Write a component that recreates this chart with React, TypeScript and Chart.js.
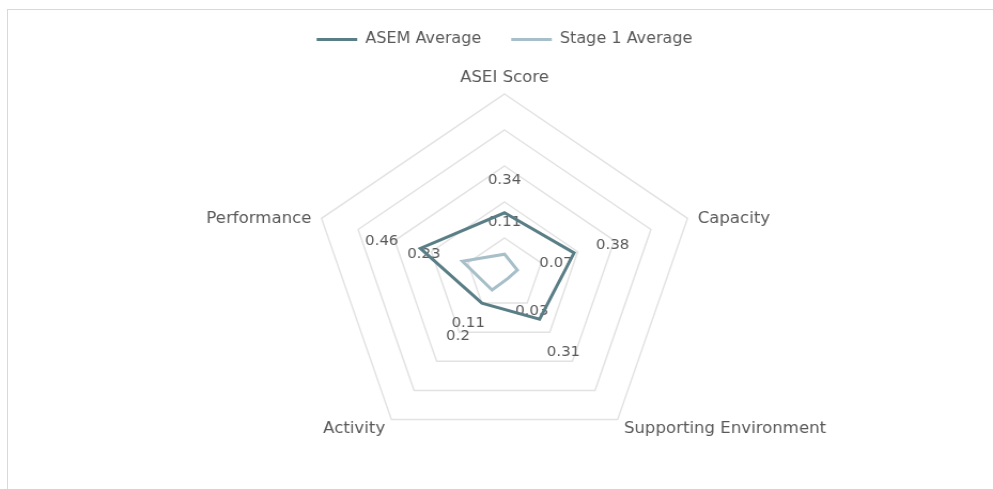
import React, { useEffect, useRef } from "react";
import { Chart, registerables } from "chart.js";

Chart.register(...registerables);

// ---- data ----
const categories = ["ASEI Score", "Capacity", "Supporting Environment", "Activity", "Performance"];
const seriesNames = ["ASEM Average", "Stage 1 Average"];
const asemAverage = [0.34, 0.38, 0.31, 0.2, 0.46];
const stage1Average = [0.11, 0.07, 0.03, 0.11, 0.23];
const axisMin = 0;
const axisMax = 1;
const axisStep = 0.2;

// ---- styles ----
const FONT = "'DejaVu Sans', 'Noto Sans', sans-serif";
const TEXT = "#595959";
const ASEM_COLOR = "#5a7e86";
const STAGE_COLOR = "#a6bfc8";
const GRID_COLOR = "#e2e2e2";
// the reference picture is slightly wider than tall: the canvas is drawn
// at RENDER_W and shown at 993 px
const VIEW_W = 993;
const VIEW_H = 489;
const RENDER_W = 929;

const excelLabels = {
  id: "excelLabels",
  beforeDatasetsDraw(chart: any) {
    const scale = chart.scales.r;
    const ctx = chart.ctx;
    ctx.save();
    ctx.fillStyle = TEXT;

    // category (axis) labels
    ctx.font = `15.5px ${FONT}`;
    chart.data.labels.forEach((lab: string, i: number) => {
      const p = scale.getPointPosition(i, scale.drawingArea);
      const dx = (p.x - scale.xCenter) / scale.drawingArea;
      const dy = (p.y - scale.yCenter) / scale.drawingArea;
      if (Math.abs(dx) < 0.05) {
        ctx.textAlign = "center";
        ctx.textBaseline = "bottom";
        ctx.fillText(lab, p.x, p.y + dy * 8);
      } else {
        ctx.textAlign = dx > 0 ? "left" : "right";
        ctx.textBaseline = "middle";
        ctx.fillText(lab, p.x + dx * 10, p.y + dy * 8 + 3);
      }
    });

    // data labels
    ctx.font = `14px ${FONT}`;
    ctx.textAlign = "center";
    ctx.textBaseline = "middle";
    chart.data.datasets.forEach((ds: any, di: number) => {
      const meta = chart.getDatasetMeta(di);
      if (meta.hidden) return;
      ds.data.forEach((v: number, i: number) => {
        const p = scale.getPointPositionForValue(i, v);
        const a = scale.getIndexAngle(i) - Math.PI / 2;
        const x = p.x + Math.cos(a) * 38;
        const y = p.y + Math.sin(a) * 36 + 4;
        ctx.fillText(String(v), x, y);
      });
    });
    ctx.restore();
  },
};

export default function App() {
  const ref = useRef<HTMLCanvasElement | null>(null);

  useEffect(() => {
    if (!ref.current) return;
    const chart = new Chart(ref.current, {
      type: "radar",
      data: {
        labels: categories,
        datasets: [
          {
            label: seriesNames[0],
            data: asemAverage,
            borderColor: ASEM_COLOR,
            backgroundColor: ASEM_COLOR,
            borderWidth: 3,
            fill: false,
            pointRadius: 0,
            pointHoverRadius: 0,
          },
          {
            label: seriesNames[1],
            data: stage1Average,
            borderColor: STAGE_COLOR,
            backgroundColor: STAGE_COLOR,
            borderWidth: 3,
            fill: false,
            pointRadius: 0,
            pointHoverRadius: 0,
          },
        ],
      },
      options: {
        responsive: false,
        animation: false,
        devicePixelRatio: 1,
        layout: { padding: { top: 4, left: 172, right: 157, bottom: 35 } },
        plugins: {
          tooltip: { enabled: false },
          legend: {
            display: true,
            position: "top",
            labels: {
              font: { family: FONT, size: 15 },
              color: TEXT,
              boxWidth: 38,
              boxHeight: 3,
              padding: 28,
              generateLabels(chart: any) {
                const items = (Chart.defaults.plugins.legend.labels as any).generateLabels(chart);
                return items.map((it: any) => ({ ...it, fillStyle: it.strokeStyle, lineWidth: 0 }));
              },
            },
          },
          // empty spacer box between legend and the plot area
          subtitle: {
            display: true,
            text: "",
            position: "top",
            weight: 500,
            font: { size: 12, lineHeight: 1 },
            padding: { top: 12, bottom: 13 },
          } as any,
        },
        scales: {
          r: {
            min: axisMin,
            max: axisMax,
            ticks: { display: false, stepSize: axisStep },
            grid: { color: GRID_COLOR, lineWidth: 1.5 },
            angleLines: { display: false },
            pointLabels: { display: false },
          },
        },
      },
      plugins: [excelLabels],
    });
    return () => chart.destroy();
  }, []);

  return (
    <div style={{ position: "fixed", inset: 0, overflow: "hidden", background: "#fff" }}>
      <div
        style={{
          position: "absolute",
          left: 7,
          top: 9,
          width: 2000,
          height: 2000,
          border: "1px solid #d9d9d9",
        }}
      />
      <canvas
        ref={ref}
        width={RENDER_W}
        height={VIEW_H}
        style={{ position: "absolute", left: 0, top: 0, width: VIEW_W, height: VIEW_H }}
      />
    </div>
  );
}
